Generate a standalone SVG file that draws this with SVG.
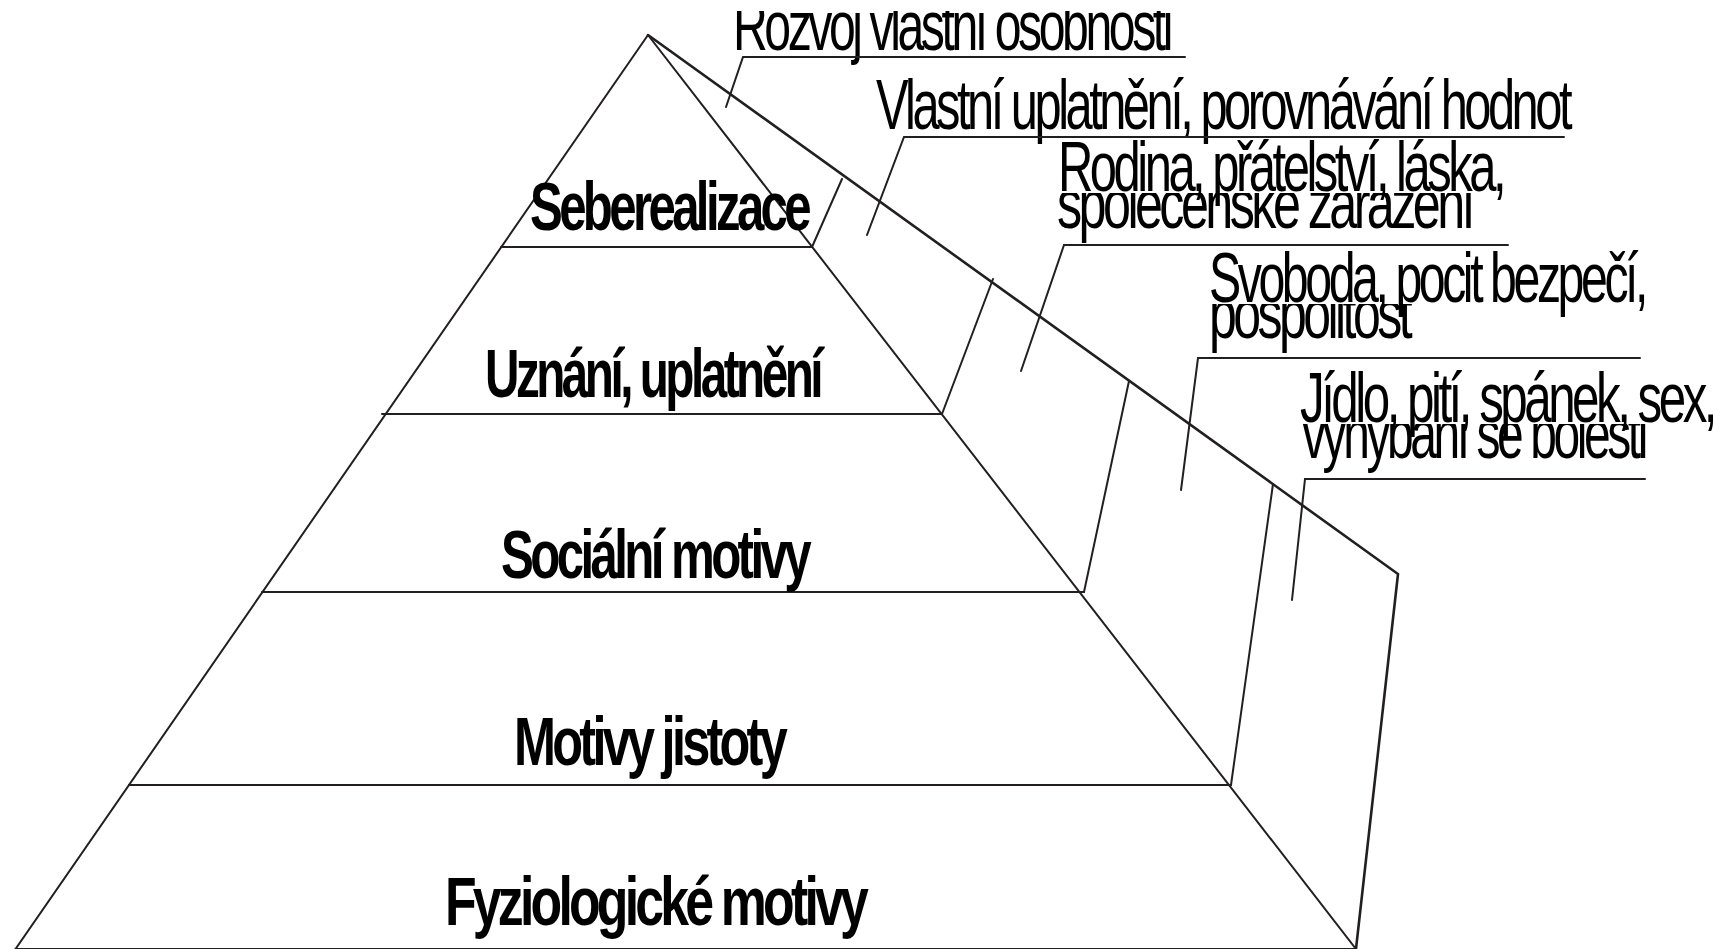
<svg xmlns="http://www.w3.org/2000/svg" width="1723" height="949" viewBox="0 0 1723 949">
<style>
.ln{stroke:#231f20;stroke-width:2;fill:none;stroke-linecap:round}
.thk{stroke:#231f20;stroke-width:2.6;fill:none;stroke-linecap:round}
.lvl{font-family:"Liberation Sans",Arial,sans-serif;font-weight:bold;font-size:68px;fill:#000;letter-spacing:-5px}
.lab{font-family:"Liberation Sans",Arial,sans-serif;font-size:70px;fill:#000;letter-spacing:-5px}
</style>
<defs>
<clipPath id="c0"><rect x="0" y="11" width="1723" height="60"/></clipPath>
<clipPath id="c1"><rect x="0" y="193" width="1723" height="60"/></clipPath>
<clipPath id="c2"><rect x="0" y="304" width="1723" height="60"/></clipPath>
<clipPath id="c3"><rect x="0" y="424" width="1723" height="60"/></clipPath>
</defs>
<rect width="1723" height="949" fill="#fff"/>
<g id="pyramid">
<path class="ln" d="M648 35 L15.5 949 M648 35 L1356 949"/>
<path class="thk" d="M648 35 L1398 574 L1356 949"/>
<path class="ln" d="M15.5 949 L1356 949"/>
</g>
<g id="level-seberealizace">
<line class="ln" x1="501" y1="247" x2="812" y2="247"/>
<line class="ln" x1="812" y1="247" x2="842" y2="179"/>
<text class="lvl" x="530" y="230" textLength="278" lengthAdjust="spacingAndGlyphs">Seberealizace</text>
</g>
<g id="level-uznani">
<line class="ln" x1="382" y1="414" x2="942" y2="414"/>
<line class="ln" x1="942" y1="414" x2="993" y2="279"/>
<text class="lvl" x="485" y="397" textLength="335" lengthAdjust="spacingAndGlyphs">Uznání, uplatnění</text>
</g>
<g id="level-socialni">
<line class="ln" x1="262" y1="592" x2="1084" y2="592"/>
<line class="ln" x1="1084" y1="592" x2="1129" y2="381"/>
<text class="lvl" x="501" y="578" textLength="307" lengthAdjust="spacingAndGlyphs">Sociální motivy</text>
</g>
<g id="level-jistoty">
<line class="ln" x1="129" y1="785" x2="1231" y2="785"/>
<line class="ln" x1="1231" y1="785" x2="1273" y2="484"/>
<text class="lvl" x="514" y="765" textLength="270" lengthAdjust="spacingAndGlyphs">Motivy jistoty</text>
</g>
<g id="level-fyziologicke">
<text class="lvl" x="445" y="925" textLength="420" lengthAdjust="spacingAndGlyphs">Fyziologické motivy</text>
</g>
<g id="label-rozvoj">
<text class="lab" x="733" y="50" textLength="437" lengthAdjust="spacingAndGlyphs" clip-path="url(#c0)">Rozvoj vlastní osobnosti</text>
</g>
<g id="label-vlastni">
<text class="lab" x="876" y="129" textLength="693" lengthAdjust="spacingAndGlyphs">Vlastní uplatnění, porovnávání hodnot</text>
</g>
<g id="label-rodina">
<text class="lab" x="1058" y="191" textLength="445" lengthAdjust="spacingAndGlyphs">Rodina, přátelství, láska,</text>
<text class="lab" x="1057" y="228" textLength="415" lengthAdjust="spacingAndGlyphs" clip-path="url(#c1)">společenské zařazení</text>
</g>
<g id="label-svoboda">
<text class="lab" x="1209" y="302" textLength="436" lengthAdjust="spacingAndGlyphs">Svoboda, pocit bezpečí,</text>
<text class="lab" x="1209" y="338" textLength="200" lengthAdjust="spacingAndGlyphs" clip-path="url(#c2)">pospolitost</text>
</g>
<g id="label-jidlo">
<text class="lab" x="1300" y="422" textLength="414" lengthAdjust="spacingAndGlyphs">Jídlo, pití, spánek, sex,</text>
<text class="lab" x="1302" y="458" textLength="343" lengthAdjust="spacingAndGlyphs" clip-path="url(#c3)">vyhýbání se bolesti</text>
</g>
<g id="connectors">
<path class="ln" d="M726 107 L743 57 L1185 57"/>
<path class="ln" d="M867 235 L904 137 L1564 137"/>
<path class="ln" d="M1021 371 L1064 245 L1508 245"/>
<path class="ln" d="M1181 490 L1198 358 L1640 358"/>
<path class="ln" d="M1292 600 L1305 479 L1645 479"/>
</g>
</svg>
